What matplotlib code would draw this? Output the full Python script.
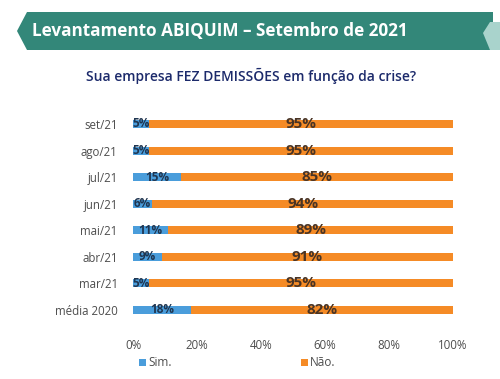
import matplotlib.pyplot as plt
from matplotlib.patches import Polygon, Rectangle

TEAL = "#338779"
BLUE = "#4a9ddb"
ORANGE = "#f58b26"
NAVY = "#1c2a6b"
GREY = "#4d4d4d"

categories = ["set/21", "ago/21", "jul/21", "jun/21", "mai/21", "abr/21", "mar/21", "média 2020"]
sim = [5, 5, 15, 6, 11, 9, 5, 18]
nao = [95, 95, 85, 94, 89, 91, 95, 82]
xticks = [0, 20, 40, 60, 80, 100]

plt.rcParams["font.family"] = ["Open Sans", "DejaVu Sans"]

fig = plt.figure(figsize=(5, 3.79), dpi=100)
W, H = 500, 379


def fx(px):
    return px / W


def fy(py):
    return 1 - py / H


# banner
banner = Polygon(
    [(fx(17), fy(31)), (fx(27), fy(12)), (fx(493), fy(12)), (fx(493), fy(50)), (fx(27), fy(50))],
    closed=True, transform=fig.transFigure, facecolor=TEAL, edgecolor="none",
)
fig.patches.append(banner)
side = Polygon(
    [(fx(483), fy(33)), (fx(490), fy(22)), (fx(500), fy(22)), (fx(500), fy(50)), (fx(490), fy(50))],
    closed=True, transform=fig.transFigure, facecolor="#a9d3cc", edgecolor="none",
)
fig.patches.append(side)
fig.text(fx(32), fy(31), "Levantamento ABIQUIM – Setembro de 2021", color="white",
         fontsize=12.3, fontweight="bold", va="center", ha="left")
fig.text(fx(251), fy(76), "Sua empresa FEZ DEMISSÕES em função da crise?", color=NAVY,
         fontsize=10, fontweight="semibold", va="center", ha="center")

ax = fig.add_axes([fx(133), 0.147, fx(453) - fx(133), 0.708 - 0.147])
y = list(range(len(categories)))
ax.barh(y, sim, height=0.3, color=BLUE)
ax.barh(y, nao, left=sim, height=0.3, color=ORANGE)

for yi, s, n in zip(y, sim, nao):
    ax.text(s / 2, yi, f"{s}%", ha="center", va="center", fontsize=8.5,
            fontweight="bold", color="#1f3550")
    ax.text(s + n / 2, yi, f"{n}%", ha="center", va="center", fontsize=11,
            fontweight="bold", color="#4a3424")

ax.set_xlim(0, 100)
ax.set_ylim(len(categories) - 0.5, -0.5)
ax.set_yticks(y)
ax.set_yticklabels(categories, fontsize=8.3, color=GREY)
ax.set_xticks(xticks)
ax.set_xticklabels([f"{t}%" for t in xticks], fontsize=8.3, color=GREY)
ax.tick_params(axis="both", length=0)
ax.tick_params(axis="y", pad=11)
ax.tick_params(axis="x", pad=11)
for sp in ax.spines.values():
    sp.set_visible(False)

# legend
fig.patches.append(Rectangle((fx(139), fy(366)), fx(7), 7 / H, transform=fig.transFigure,
                             facecolor=BLUE, edgecolor="none"))
fig.text(fx(148), fy(362), "Sim.", fontsize=8.5, color=GREY, va="center", ha="left")
fig.patches.append(Rectangle((fx(301), fy(366)), fx(7), 7 / H, transform=fig.transFigure,
                             facecolor=ORANGE, edgecolor="none"))
fig.text(fx(310), fy(362), "Não.", fontsize=8.5, color=GREY, va="center", ha="left")

fig.savefig("out.png", dpi=100)
